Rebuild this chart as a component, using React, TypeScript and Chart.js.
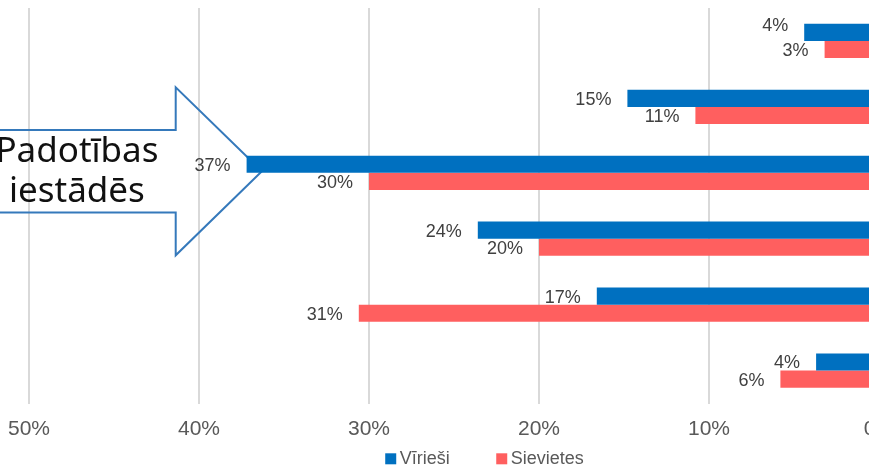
import React, { useEffect, useRef } from "react";
import { Chart, registerables } from "chart.js";

Chart.register(...registerables);

const categories = ["1", "2", "3", "4", "5", "6"];
const seriesNames = ["Vīrieši", "Sievietes"];
const virieshi = [0.044, 0.148, 0.372, 0.236, 0.166, 0.037];
const sievietes = [0.032, 0.108, 0.3, 0.2, 0.306, 0.058];
const xTickValues = [0, 0.1, 0.2, 0.3, 0.4, 0.5];
const calloutLines = ["Padotības", "iestādēs"];

const COLORS = ["#0070C0", "#FF5F5F"];
const FONT = '"Liberation Sans", Arial, sans-serif';

const fmt = (v: number) => `${Math.round(v * 100)}%`;

const overlayPlugin = {
  id: "overlay",
  beforeDatasetsDraw(chart: any) {
    const { ctx } = chart;
    const x = chart.scales.x;
    const y = chart.scales.y;
    const cy = y.getPixelForValue(2) - 1.5;
    const tip = x.getPixelForValue(0.363);
    const headX = x.getPixelForValue(0.4137);
    const tailX = x.getPixelForValue(0.62);
    const hh = 84;
    const sh = 41.3;
    ctx.save();
    ctx.beginPath();
    ctx.moveTo(tailX, cy - sh);
    ctx.lineTo(headX, cy - sh);
    ctx.lineTo(headX, cy - hh);
    ctx.lineTo(tip, cy);
    ctx.lineTo(headX, cy + hh);
    ctx.lineTo(headX, cy + sh);
    ctx.lineTo(tailX, cy + sh);
    ctx.closePath();
    ctx.strokeStyle = "#3579BB";
    ctx.lineWidth = 2;
    ctx.stroke();
    ctx.font = '35px "Noto Sans"';
    ctx.fillStyle = "#111111";
    ctx.textAlign = "center";
    ctx.textBaseline = "alphabetic";
    const tx = x.getPixelForValue(0.4718);
    ctx.fillText(calloutLines[0], tx, cy - 9.3);
    ctx.fillText(calloutLines[1], tx, cy + 30.7);
    ctx.restore();
  },
  afterDatasetsDraw(chart: any) {
    const { ctx } = chart;
    ctx.save();
    ctx.font = `18px ${FONT}`;
    ctx.fillStyle = "#404040";
    ctx.textAlign = "right";
    ctx.textBaseline = "middle";
    chart.data.datasets.forEach((ds: any, di: number) => {
      const meta = chart.getDatasetMeta(di);
      meta.data.forEach((el: any, i: number) => {
        const shift = di === 0 && i === 0 ? -6 : 1.5;
        ctx.fillText(fmt(ds.data[i]), el.x - 16, el.y + shift);
      });
    });
    ctx.restore();
  },
  afterDraw(chart: any) {
    const { ctx } = chart;
    ctx.save();
    ctx.font = `18px ${FONT}`;
    ctx.textBaseline = "middle";
    ctx.textAlign = "left";
    const box = 11;
    const gapBoxText = 3.5;
    const gapItems = 46.5;
    const widths = seriesNames.map((n) => ctx.measureText(n).width);
    const total =
      widths.reduce((a, w) => a + box + gapBoxText + w, 0) +
      gapItems * (seriesNames.length - 1);
    let cx = chart.width / 2 - total / 2;
    const boxTop = 453.3;
    seriesNames.forEach((n, i) => {
      ctx.fillStyle = COLORS[i];
      ctx.fillRect(cx, boxTop, box, box);
      cx += box + gapBoxText;
      ctx.fillStyle = "#595959";
      ctx.fillText(n, cx, boxTop + box / 2 + 0.5);
      cx += widths[i] + gapItems;
    });
    ctx.restore();
  },
};

export default function App() {
  const ref = useRef<HTMLCanvasElement | null>(null);

  useEffect(() => {
    if (!ref.current) return;
    const chart = new Chart(ref.current, {
      type: "bar",
      data: {
        labels: categories,
        datasets: [
          {
            label: seriesNames[0],
            data: virieshi,
            backgroundColor: COLORS[0],
            categoryPercentage: 0.52,
            barPercentage: 1,
          },
          {
            label: seriesNames[1],
            data: sievietes,
            backgroundColor: COLORS[1],
            categoryPercentage: 0.52,
            barPercentage: 1,
          },
        ],
      },
      options: {
        indexAxis: "y",
        animation: false,
        responsive: true,
        maintainAspectRatio: false,
        layout: { padding: { left: 29, right: 90, top: 8, bottom: 11.3 } },
        plugins: {
          legend: { display: false },
          tooltip: { enabled: false },
        },
        scales: {
          x: {
            type: "linear",
            reverse: true,
            min: 0,
            max: 0.5,
            afterBuildTicks: (axis: any) => {
              axis.ticks = xTickValues.map((v) => ({ value: v }));
            },
            ticks: {
              callback: (v: any) => fmt(Number(v)),
              font: { family: FONT, size: 21 },
              color: "#595959",
              padding: 13.5,
              maxRotation: 0,
              autoSkip: false,
            },
            grid: { color: "#D9D9D9", lineWidth: 2, drawTicks: false },
            border: { display: false },
          },
          y: {
            display: false,
            grid: { display: false },
          },
        },
      },
      plugins: [overlayPlugin],
    });
    return () => chart.destroy();
  }, []);

  return (
    <div
      style={{
        position: "fixed",
        left: 0,
        top: 0,
        width: 869,
        height: 467,
        overflow: "hidden",
        background: "#ffffff",
      }}
    >
      <div style={{ position: "relative", width: 969, height: 467 }}>
        <canvas ref={ref} />
      </div>
    </div>
  );
}
